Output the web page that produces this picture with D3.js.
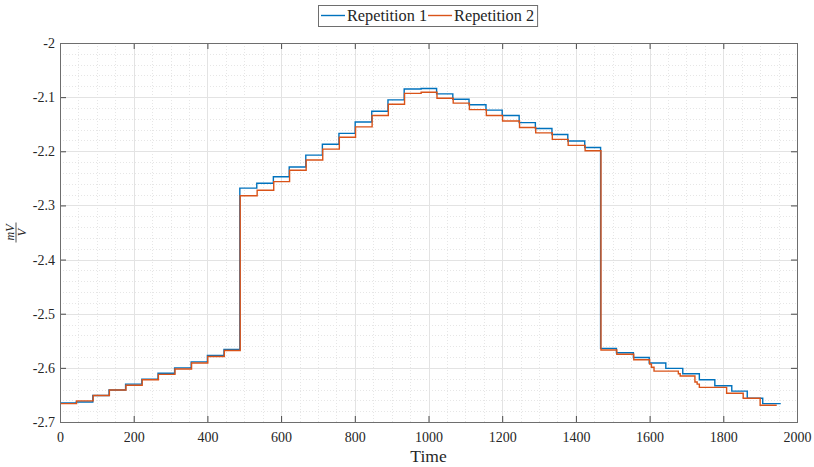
<!DOCTYPE html>
<html>
<head>
<meta charset="utf-8">
<script src="https://cdn.jsdelivr.net/npm/d3@7"></script>
<style>
  html, body { margin: 0; padding: 0; background: #fff; }
  svg { display: block; }
  text { font-family: "Liberation Serif", "DejaVu Serif", serif; fill: #262626; }
</style>
</head>
<body>
<svg id="chart" width="814" height="467"></svg>
<script>
// Step-wise measurement, repetition 1: time at which each level starts, and the level (mV/V)
const rep1Time = [0, 44, 89, 133, 178, 222, 266, 311, 356, 400, 445, 488, 534, 579, 622, 667, 712, 757, 801, 846, 890, 934, 980, 1022, 1066, 1110, 1156, 1200, 1246, 1290, 1335, 1378, 1424, 1467, 1510, 1556, 1599, 1644, 1690, 1735, 1777, 1823, 1865, 1907, 1954];
const rep1Value = [-2.665, -2.663, -2.651, -2.641, -2.630, -2.621, -2.610, -2.600, -2.589, -2.577, -2.566, -2.268, -2.259, -2.247, -2.229, -2.207, -2.187, -2.167, -2.146, -2.126, -2.105, -2.085, -2.084, -2.094, -2.104, -2.114, -2.124, -2.134, -2.147, -2.158, -2.169, -2.181, -2.193, -2.564, -2.572, -2.581, -2.591, -2.601, -2.611, -2.622, -2.633, -2.643, -2.656, -2.666, -2.665];

// Repetition 2
const rep2Time = [0, 45, 90, 134, 179, 223, 267, 312, 357, 401, 446, 489, 535, 580, 623, 668, 713, 758, 802, 847, 891, 935, 980, 1023, 1067, 1111, 1157, 1201, 1247, 1291, 1336, 1379, 1425, 1468, 1511, 1557, 1600, 1605, 1612, 1678, 1683, 1723, 1729, 1735, 1809, 1854, 1900, 1945];
const rep2Value = [-2.666, -2.661, -2.651, -2.641, -2.632, -2.622, -2.612, -2.602, -2.591, -2.579, -2.568, -2.282, -2.272, -2.256, -2.235, -2.216, -2.196, -2.174, -2.155, -2.134, -2.113, -2.093, -2.091, -2.102, -2.111, -2.123, -2.134, -2.144, -2.156, -2.166, -2.178, -2.189, -2.199, -2.567, -2.575, -2.585, -2.593, -2.599, -2.606, -2.611, -2.615, -2.626, -2.630, -2.636, -2.647, -2.656, -2.669, -2.669];

const seriesNames = ["Repetition 1", "Repetition 2"];
const seriesColors = ["#0072BD", "#D95319"];

const xTicks = [0, 200, 400, 600, 800, 1000, 1200, 1400, 1600, 1800, 2000];
const xTickLabels = ["0", "200", "400", "600", "800", "1000", "1200", "1400", "1600", "1800", "2000"];
const yTicks = [-2.7, -2.6, -2.5, -2.4, -2.3, -2.2, -2.1, -2];
const yTickLabels = ["-2.7", "-2.6", "-2.5", "-2.4", "-2.3", "-2.2", "-2.1", "-2"];

const svg = d3.select("#chart");
const plotL = 60, plotR = 797, plotT = 43, plotB = 422;

const x = d3.scaleLinear().domain([0, 2000]).range([plotL, plotR]);
const y = d3.scaleLinear().domain([-2.7, -2]).range([plotB, plotT]);

// minor grid (dotted)
const xMinor = d3.range(0, 2001, 50).filter(v => v % 200 !== 0);
const yMinor = d3.range(0, 36).map(i => -2.7 + i * 0.02).filter(v => Math.abs(Math.round(v * 10) - v * 10) > 1e-6);
const grid = svg.append("g");
grid.selectAll(".xm").data(xMinor).join("line")
  .attr("x1", d => Math.round(x(d)) + 0.5).attr("x2", d => Math.round(x(d)) + 0.5)
  .attr("y1", plotT).attr("y2", plotB)
  .attr("stroke", "#e6e6e6").attr("stroke-width", 1).attr("stroke-dasharray", "1,2");
grid.selectAll(".ym").data(yMinor).join("line")
  .attr("y1", d => Math.round(y(d)) + 0.5).attr("y2", d => Math.round(y(d)) + 0.5)
  .attr("x1", plotL).attr("x2", plotR)
  .attr("stroke", "#e6e6e6").attr("stroke-width", 1).attr("stroke-dasharray", "1,2");
// major grid (solid)
grid.selectAll(".xM").data(xTicks).join("line")
  .attr("x1", d => Math.round(x(d)) + 0.5).attr("x2", d => Math.round(x(d)) + 0.5)
  .attr("y1", plotT).attr("y2", plotB)
  .attr("stroke", "#e3e3e3").attr("stroke-width", 1);
grid.selectAll(".yM").data(yTicks).join("line")
  .attr("y1", d => Math.round(y(d)) + 0.5).attr("y2", d => Math.round(y(d)) + 0.5)
  .attr("x1", plotL).attr("x2", plotR)
  .attr("stroke", "#e3e3e3").attr("stroke-width", 1);

// data lines
const line = d3.line().x(d => x(d[0])).y(d => y(d[1])).curve(d3.curveStepAfter);
const series = [d3.zip(rep1Time, rep1Value), d3.zip(rep2Time, rep2Value)];
svg.append("g").selectAll("path").data(series).join("path")
  .attr("d", line)
  .attr("fill", "none")
  .attr("stroke", (d, i) => seriesColors[i])
  .attr("stroke-width", 1.4)
  .attr("stroke-linejoin", "miter");

// axes with inward ticks
const xAxis = d3.axisBottom(x).tickValues(xTicks).tickFormat((d, i) => xTickLabels[i]).tickSize(-6).tickPadding(10);
const yAxis = d3.axisLeft(y).tickValues(yTicks).tickFormat((d, i) => yTickLabels[i]).tickSize(-6).tickPadding(5);
const gx = svg.append("g").attr("transform", `translate(0,${plotB})`).call(xAxis);
const gy = svg.append("g").attr("transform", `translate(${plotL},0)`).call(yAxis);
[gx, gy].forEach(g => {
  g.select(".domain").remove();
  g.selectAll(".tick line").attr("stroke", "#4a4a4a");
  g.selectAll(".tick text").style("font-size", "14px").style("font-family", '"Liberation Serif", serif').attr("fill", "#262626");
});
// mirrored ticks on top and right
svg.append("g").attr("transform", `translate(0,${plotT})`)
  .call(d3.axisTop(x).tickValues(xTicks).tickSize(-6).tickFormat(""))
  .call(g => { g.select(".domain").remove(); g.selectAll(".tick line").attr("stroke", "#4a4a4a"); });
svg.append("g").attr("transform", `translate(${plotR},0)`)
  .call(d3.axisRight(y).tickValues(yTicks).tickSize(-6).tickFormat(""))
  .call(g => { g.select(".domain").remove(); g.selectAll(".tick line").attr("stroke", "#4a4a4a"); });

// frame
svg.append("rect")
  .attr("x", plotL + 0.5).attr("y", plotT + 0.5)
  .attr("width", plotR - plotL).attr("height", plotB - plotT)
  .attr("fill", "none").attr("stroke", "#6e6e6e").attr("stroke-width", 1);

// x label
svg.append("text")
  .attr("x", (plotL + plotR) / 2).attr("y", 462)
  .attr("text-anchor", "middle")
  .style("font-size", "17.5px")
  .text("Time");

// y label: fraction mV / V, rotated
const yl = svg.append("g").attr("transform", `translate(16,${(plotT + plotB) / 2}) rotate(-90)`);
yl.append("text").attr("x", 0).attr("y", -2.5).attr("text-anchor", "middle")
  .style("font-size", "12px").style("font-style", "italic").text("mV");
yl.append("line").attr("x1", -10).attr("x2", 10).attr("y1", 0).attr("y2", 0)
  .attr("stroke", "#262626").attr("stroke-width", 0.8);
yl.append("text").attr("x", 0).attr("y", 9.5).attr("text-anchor", "middle")
  .style("font-size", "12px").style("font-style", "italic").text("V");

// legend
const lg = svg.append("g");
const legendFont = 16.3;
let cx = 321;
seriesNames.forEach((name, i) => {
  lg.append("line").attr("x1", cx).attr("x2", cx + 24).attr("y1", 15.5).attr("y2", 15.5)
    .attr("stroke", seriesColors[i]).attr("stroke-width", 1.4);
  cx += 26;
  const t = lg.append("text").attr("x", cx).attr("y", 21).style("font-size", legendFont + "px").text(name);
  cx += t.node().getComputedTextLength() + 1;
});
lg.insert("rect", ":first-child")
  .attr("x", 318.5).attr("y", 5.5).attr("width", cx - 318 + 2).attr("height", 21)
  .attr("fill", "#fff").attr("stroke", "#6e6e6e").attr("stroke-width", 1);
</script>
</body>
</html>
